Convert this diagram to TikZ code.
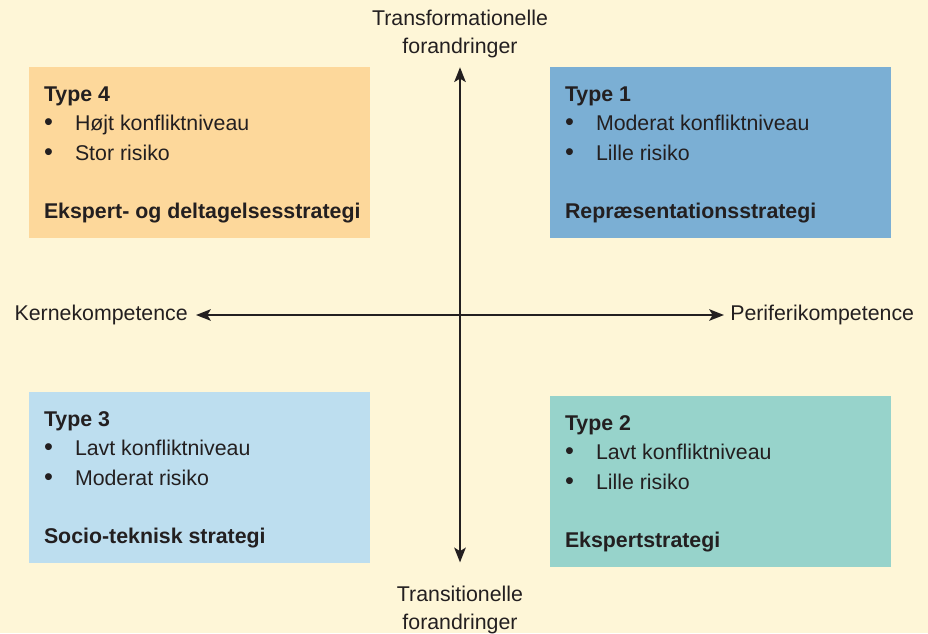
\documentclass[tikz,border=0pt]{standalone}
\usepackage{fontspec}
\setmainfont{Liberation Sans}
\usepackage{tikz}
\usetikzlibrary{arrows.meta, positioning, calc}

\definecolor{bgcream}{HTML}{FEF6D7}
\definecolor{inkdark}{HTML}{231F20}
\definecolor{orangebox}{HTML}{FDD89B}
\definecolor{bluebox}{HTML}{7BAFD4}
\definecolor{lightbluebox}{HTML}{BDDEEF}
\definecolor{tealbox}{HTML}{97D3CB}

\newcommand{\punkt}{\makebox[23.25pt][l]{\fontsize{19pt}{21pt}\selectfont\textbullet}}

\tikzset{
  quadrant/.style={rectangle, draw=none, inner sep=0pt,
    minimum width=255.75pt, minimum height=128.25pt},
  boxtext/.style={anchor=base west, inner sep=0pt, text=inkdark},
  boxbold/.style={boxtext, font=\fontsize{16pt}{21pt}\selectfont\bfseries},
  axislabel/.style={inner sep=0pt, text=inkdark, align=center},
  axisline/.style={line width=2pt, draw=inkdark,
    {Stealth[length=11pt, width=8.5pt, inset=2.5pt]}-{Stealth[length=11pt, width=8.5pt, inset=2.5pt]}}
}

\begin{document}
\begin{tikzpicture}[x=0.75pt, y=-0.75pt, font=\fontsize{16pt}{21pt}\selectfont]
    % Background
    \path[use as bounding box, fill=bgcream] (0, 0) rectangle (928, 633);

    % Type 4: top left
    \node[quadrant, fill=orangebox] (t4) at (199.5, 152.5) {};
    \node[boxbold] (t4title) at ($(t4.north west)+(15, 35)$) {Type 4};
    \node[boxtext] (t4a) at ($(t4.north west)+(15, 64)$) {\punkt Højt konfliktniveau};
    \node[boxtext] (t4b) at ($(t4.north west)+(15, 94)$) {\punkt Stor risiko};
    \node[boxbold] (t4strat) at ($(t4.north west)+(15, 152)$) {Ekspert- og deltagelsesstrategi};

    % Type 1: top right
    \node[quadrant, fill=bluebox] (t1) at (720.5, 152.5) {};
    \node[boxbold] (t1title) at ($(t1.north west)+(15, 35)$) {Type 1};
    \node[boxtext] (t1a) at ($(t1.north west)+(15, 64)$) {\punkt Moderat konfliktniveau};
    \node[boxtext] (t1b) at ($(t1.north west)+(15, 94)$) {\punkt Lille risiko};
    \node[boxbold] (t1strat) at ($(t1.north west)+(15, 152)$) {Repræsentationsstrategi};

    % Type 3: bottom left
    \node[quadrant, fill=lightbluebox] (t3) at (199.5, 477.5) {};
    \node[boxbold] (t3title) at ($(t3.north west)+(15, 35)$) {Type 3};
    \node[boxtext] (t3a) at ($(t3.north west)+(15, 64)$) {\punkt Lavt konfliktniveau};
    \node[boxtext] (t3b) at ($(t3.north west)+(15, 94)$) {\punkt Moderat risiko};
    \node[boxbold] (t3strat) at ($(t3.north west)+(15, 152)$) {Socio-teknisk strategi};

    % Type 2: bottom right
    \node[quadrant, fill=tealbox] (t2) at (720.5, 481.5) {};
    \node[boxbold] (t2title) at ($(t2.north west)+(15, 35)$) {Type 2};
    \node[boxtext] (t2a) at ($(t2.north west)+(15, 64)$) {\punkt Lavt konfliktniveau};
    \node[boxtext] (t2b) at ($(t2.north west)+(15, 94)$) {\punkt Lille risiko};
    \node[boxbold] (t2strat) at ($(t2.north west)+(15, 152)$) {Ekspertstrategi};

    % Axis labels
    \node[axislabel] (transf) at (460, 33.7) {Transformationelle\\forandringer};
    \node[axislabel] (transi) at (460, 610) {Transitionelle\\forandringer};
    \node[axislabel, anchor=east] (kerne) at (188, 315) {Kernekompetence};
    \node[axislabel, anchor=west] (periferi) at (730, 315) {Periferikompetence};

    % Axes
    \draw[axisline, shorten <=7pt, shorten >=17.5pt] (transf) -- (transi);
    \draw[axisline, shorten <=6pt, shorten >=4.5pt] (kerne) -- (periferi);
\end{tikzpicture}
\end{document}
